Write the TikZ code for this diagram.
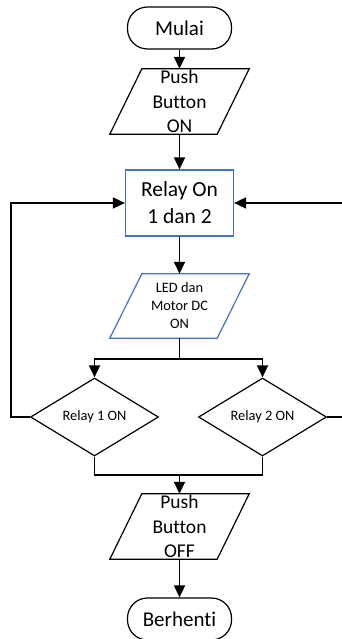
\documentclass[tikz,border=0pt]{standalone}
\usepackage{fontspec}
\setmainfont{Carlito}[Ligatures=NoCommon]
\usetikzlibrary{shapes.geometric,arrows.meta,calc}
\definecolor{edgeblue}{HTML}{4472C4}
\begin{document}
\begin{tikzpicture}[x=1pt,y=-1pt,
 line/.style={line width=1.6pt, draw=black},
 arr/.style={line, -{Triangle[width=11pt,length=12pt]}},
 term/.style={draw, line width=1.2pt, rounded corners=20pt, minimum width=104pt, minimum height=42pt, inner sep=0pt, font=\fontsize{21}{25}\selectfont},
 parabox/.style={minimum width=139pt, minimum height=65pt, inner sep=0pt, align=center},
 procbox/.style={draw=edgeblue, line width=1.2pt, minimum width=108pt, minimum height=66pt, inner sep=0pt, align=center, font=\fontsize{21.5}{27}\selectfont},
 decision/.style={diamond, draw, line width=1.2pt, minimum width=128pt, minimum height=78pt, aspect=1.64, inner sep=0pt, font=\fontsize{14.4}{17}\selectfont}
]
\useasboundingbox (0,0) rectangle (342,639);

\node[term] (mulai) at (179.5,28) {Mulai};
\node[parabox, font=\fontsize{19.5}{24.5}\selectfont] (pbon) at (179.5,101.5) {\raisebox{-2pt}{\parbox{139pt}{\centering Push\\Button\\ON}}};
\node[procbox] (relay) at (179.5,203) {Relay On\\1 dan 2};
\node[parabox, minimum height=64pt, font=\fontsize{14.4}{18}\selectfont] (led) at (179.5,306) {LED dan\\Motor DC\\ON};
\node[decision] (d1) at (94.5,417) {Relay 1 ON};
\node[decision] (d2) at (262.5,417) {Relay 2 ON};
\node[parabox, font=\fontsize{19.5}{24.5}\selectfont] (pboff) at (179.5,526.5) {\raisebox{-2pt}{\parbox{139pt}{\centering Push\\Button\\OFF}}};
\node[term] (stop) at (179.5,619) {Berhenti};

\draw[line width=1.2pt] ($(pbon.north west)+(32,0)$) -- (pbon.north east) -- ($(pbon.south east)+(-32,0)$) -- (pbon.south west) -- cycle;
\draw[line width=1.2pt, draw=edgeblue] ($(led.north west)+(32,0)$) -- (led.north east) -- ($(led.south east)+(-32,0)$) -- (led.south west) -- cycle;
\draw[line width=1.2pt] ($(pboff.north west)+(32,0)$) -- (pboff.north east) -- ($(pboff.south east)+(-32,0)$) -- (pboff.south west) -- cycle;

\draw[arr] (mulai) -- (pbon);
\draw[arr] (pbon) -- (relay);
\draw[arr] (relay) -- (led);
\coordinate (split) at (179.5,359);
\draw[line] (led.south) -- (split);
\draw[arr] (split) -| (d1.north);
\draw[arr] (split) -| (d2.north);
\coordinate (lloop) at (11,417);
\draw[arr] (d1.west) -- (lloop) |- (relay.west);
\coordinate (rloop) at (345,417);
\draw[arr] (d2.east) -- (rloop) |- (relay.east);
\coordinate (join) at (179.5,475);
\draw[line] (d1.south) |- (join);
\draw[line] (d2.south) |- (join);
\draw[arr] (join) -- (pboff);
\draw[arr] (pboff) -- (stop);
\end{tikzpicture}
\end{document}
